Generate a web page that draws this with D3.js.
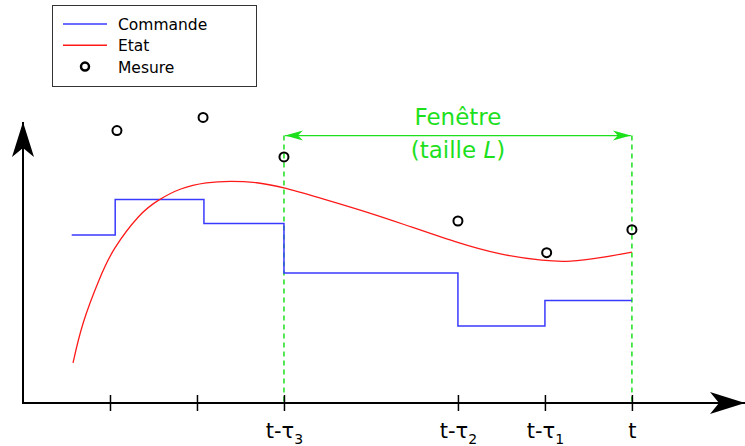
<!DOCTYPE html>
<html>
<head>
<meta charset="utf-8">
<script src="https://cdn.jsdelivr.net/npm/d3@7"></script>
<style>
  body { margin: 0; background: #fff; }
  text { font-family: "DejaVu Sans", sans-serif; }
</style>
</head>
<body>
<div class="chart"></div>
<script>
// time in units of one tick step, value in arbitrary units
var commandeT = [0.56, 1.06, 2.08, 3, 5, 6, 7];
var commandeV = [6.0, 7.27, 6.41, 4.64, 2.75, 3.66, 3.66];

var etatT = [0.575, 0.678, 0.885, 1.023, 1.345, 1.552, 1.805, 2.115, 2.379, 2.69,
             2.989, 3.494, 3.954, 4.333, 5.0, 5.483, 6.0, 6.287, 6.632, 7.0];
var etatV = [1.43, 2.86, 4.5, 5.46, 6.79, 7.25, 7.68, 7.89, 7.93, 7.89,
             7.71, 7.25, 6.82, 6.43, 5.71, 5.29, 5.07, 5.04, 5.18, 5.39];

var mesureT = [1.08, 2.07, 3.0, 5.0, 6.02, 7.0];
var mesureV = [9.73, 10.2, 8.79, 6.5, 5.37, 6.19];

var tickT = [1, 2, 3, 5, 6, 7];
var tickLabels = [null, null, ['t-τ', '3'], ['t-τ', '2'], ['t-τ', '1'], ['t', '']];

var windowStart = 3, windowEnd = 7, windowLevel = 9.55;

var margin = { top: 0, left: 23 };
var totalW = 745, totalH = 446;

var svg = d3.select('.chart')
  .append('svg')
    .attr('width', totalW)
    .attr('height', totalH);

var defs = svg.append('defs');
defs.append('marker')
    .attr('id', 'blackArrow')
    .attr('markerUnits', 'userSpaceOnUse')
    .attr('viewBox', '-36 -12 37 24')
    .attr('refX', 0).attr('refY', 0)
    .attr('markerWidth', 37).attr('markerHeight', 24)
    .attr('orient', 'auto')
  .append('path')
    .attr('d', 'M0,0 L-35,-11 L-26,0 L-35,11 Z')
    .attr('fill', '#000');

defs.append('marker')
    .attr('id', 'greenArrow')
    .attr('markerUnits', 'userSpaceOnUse')
    .attr('viewBox', '-19 -6 20 12')
    .attr('refX', 0).attr('refY', 0)
    .attr('markerWidth', 20).attr('markerHeight', 12)
    .attr('orient', 'auto-start-reverse')
  .append('path')
    .attr('d', 'M0,0 L-18,-5 L-13,0 L-18,5 Z')
    .attr('fill', '#1de01d');

var g = svg.append('g')
    .attr('transform', `translate(${margin.left}, ${margin.top})`);

var xScale = d3.scaleLinear()
  .domain([0, 8.3])
  .range([0, 722]);

var yScale = d3.scaleLinear()
  .domain([0, 10])
  .range([403, 123]);

var green = '#1de01d';

// window dashed bounds
g.selectAll('.bound')
  .data([windowStart, windowEnd])
  .enter().append('line')
    .attr('class', 'bound')
    .attr('x1', d => xScale(d)).attr('x2', d => xScale(d))
    .attr('y1', yScale(windowLevel)).attr('y2', yScale(0))
    .attr('stroke', green)
    .attr('stroke-width', 1.5)
    .attr('stroke-dasharray', '5,4');

// window arrow
g.append('line')
    .attr('x1', xScale(windowStart) + 1).attr('x2', xScale(windowEnd) - 1)
    .attr('y1', yScale(windowLevel)).attr('y2', yScale(windowLevel))
    .attr('stroke', green)
    .attr('stroke-width', 1.3)
    .attr('marker-start', 'url(#greenArrow)')
    .attr('marker-end', 'url(#greenArrow)');

var mid = (windowStart + windowEnd) / 2;
g.append('text')
    .attr('x', xScale(mid)).attr('y', yScale(windowLevel) - 11)
    .attr('text-anchor', 'middle')
    .attr('font-size', 23)
    .attr('fill', green)
    .text('Fenêtre');
var t2 = g.append('text')
    .attr('x', xScale(mid)).attr('y', yScale(windowLevel) + 22)
    .attr('text-anchor', 'middle')
    .attr('font-size', 23)
    .attr('fill', green);
t2.append('tspan').text('(taille ');
t2.append('tspan').attr('font-style', 'italic').text('L');
t2.append('tspan').text(')');

// commande (step)
var stepLine = d3.line()
  .x((d, i) => xScale(commandeT[i]))
  .y(d => yScale(d))
  .curve(d3.curveStepAfter);

g.append('path')
    .datum(commandeV)
    .attr('d', stepLine)
    .attr('fill', 'none')
    .attr('stroke', '#3a3aff')
    .attr('stroke-width', 1.5);

// etat
var etatLine = d3.line()
  .x((d, i) => xScale(etatT[i]))
  .y(d => yScale(d))
  .curve(d3.curveBasis);

g.append('path')
    .datum(etatV)
    .attr('d', etatLine)
    .attr('fill', 'none')
    .attr('stroke', '#ff1a1a')
    .attr('stroke-width', 1.3);

// mesures
g.selectAll('.mesure')
  .data(mesureV)
  .enter().append('circle')
    .attr('class', 'mesure')
    .attr('cx', (d, i) => xScale(mesureT[i]))
    .attr('cy', d => yScale(d))
    .attr('r', 4.5)
    .attr('fill', 'none')
    .attr('stroke', '#000')
    .attr('stroke-width', 2);

// axes
var yAxis = d3.axisLeft(yScale).tickValues([]).tickSizeOuter(0);
var yAxisG = g.append('g').call(yAxis);
yAxisG.select('.domain')
    .attr('d', `M0,${yScale(0)}V${yScale(10) - 1}`)
    .attr('stroke-width', 2)
    .attr('marker-end', 'url(#blackArrow)');

var xAxis = d3.axisBottom(xScale)
  .tickValues(tickT)
  .tickSizeInner(8)
  .tickSizeOuter(0)
  .tickFormat('');

var xAxisG = g.append('g')
    .attr('transform', `translate(0, ${yScale(0)})`)
    .call(xAxis);
xAxisG.select('.domain')
    .attr('d', `M-1,0H${xScale(8.3)}`)
    .attr('stroke-width', 2)
    .attr('marker-end', 'url(#blackArrow)');
xAxisG.selectAll('.tick line')
    .attr('y1', -8).attr('y2', 8)
    .attr('stroke-width', 1.5);

xAxisG.selectAll('.tick text').remove();
xAxisG.selectAll('.tick').each(function(d, i) {
  var lab = tickLabels[i];
  if (!lab) return;
  var tx = d3.select(this).append('text')
      .attr('y', 35)
      .attr('text-anchor', 'middle')
      .attr('font-size', 21)
      .attr('fill', '#000');
  tx.append('tspan').text(lab[0]);
  if (lab[1]) tx.append('tspan').attr('font-size', 14).attr('dy', 6).text(lab[1]);
});

// legend
var legendItems = ['Commande', 'Etat', 'Mesure'];
var legend = svg.append('g');
legend.append('rect')
    .attr('x', 52.5).attr('y', 5.5)
    .attr('width', 204).attr('height', 81)
    .attr('fill', '#fff')
    .attr('stroke', '#333')
    .attr('stroke-width', 1);

var rows = legend.selectAll('.row')
  .data(legendItems)
  .enter().append('g')
    .attr('transform', (d, i) => `translate(0, ${24 + i * 21.3})`);

rows.filter((d, i) => i < 2).append('line')
    .attr('x1', 63).attr('x2', 107)
    .attr('stroke', (d, i) => i === 0 ? '#3a3aff' : '#ff1a1a')
    .attr('stroke-width', 1.5);
rows.filter((d, i) => i === 2).append('circle')
    .attr('cx', 85).attr('r', 4)
    .attr('fill', 'none')
    .attr('stroke', '#000')
    .attr('stroke-width', 2.5);
rows.append('text')
    .attr('x', 118).attr('y', 6)
    .attr('font-size', 15.5)
    .attr('fill', '#000')
    .text(d => d);
</script>
</body>
</html>
